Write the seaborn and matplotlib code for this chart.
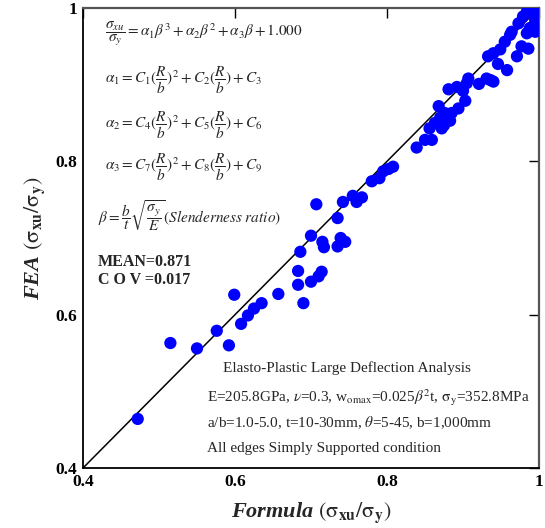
import matplotlib
matplotlib.use("Agg")
import matplotlib.pyplot as plt
import seaborn as sns
import pandas as pd

# Ultimate strength ratios: closed-form formula vs. FE analysis
formula_x = [
    0.472, 0.515, 0.550, 0.576, 0.592, 0.599, 0.608, 0.617, 0.625, 0.635,
    0.657, 0.683, 0.683, 0.690, 0.686, 0.700, 0.710, 0.714, 0.700, 0.707,
    0.715, 0.717, 0.735, 0.739, 0.745, 0.735, 0.742, 0.755, 0.760, 0.767,
    0.780, 0.790, 0.795, 0.802, 0.808, 0.839, 0.850, 0.859, 0.856, 0.863,
    0.872, 0.883, 0.868, 0.876, 0.885, 0.894, 0.903, 0.881, 0.892, 0.900,
    0.907, 0.905, 0.921, 0.931, 0.936, 0.940, 0.946, 0.958, 0.933, 0.940,
    0.949, 0.955, 0.962, 0.971, 0.977, 0.986, 0.964, 0.973, 0.979, 0.984,
    0.993, 0.997, 0.988, 0.984, 0.995, 0.993, 0.997, 0.995, 0.870, 0.875,
]
fea_y = [
    0.464, 0.563, 0.556, 0.579, 0.560, 0.626, 0.588, 0.599, 0.608, 0.615,
    0.627, 0.639, 0.657, 0.615, 0.682, 0.643, 0.650, 0.656, 0.703, 0.744,
    0.695, 0.688, 0.689, 0.700, 0.695, 0.726, 0.747, 0.755, 0.747, 0.753,
    0.774, 0.778, 0.787, 0.790, 0.793, 0.818, 0.828, 0.828, 0.843, 0.850,
    0.843, 0.853, 0.872, 0.863, 0.863, 0.869, 0.879, 0.894, 0.897, 0.892,
    0.908, 0.902, 0.901, 0.908, 0.906, 0.904, 0.927, 0.919, 0.937, 0.941,
    0.946, 0.956, 0.965, 0.937, 0.950, 0.947, 0.969, 0.980, 0.989, 0.995,
    0.999, 0.999, 0.974, 0.967, 0.984, 0.991, 0.978, 0.969, 0.857, 0.847,
]

axis_ticks = [0.4, 0.6, 0.8, 1.0]
tick_labels = ["0.4", "0.6", "0.8", "1"]

df = pd.DataFrame({"formula": formula_x, "fea": fea_y})

sns.set_style("white")
plt.rcParams["font.family"] = ["Liberation Serif", "DejaVu Serif"]
plt.rcParams["mathtext.fontset"] = "stix"

fig = plt.figure(figsize=(5.45, 5.28), dpi=100)
ax = fig.add_axes([83 / 545, 60 / 528, 456 / 545, 460 / 528])

# 1:1 reference line
ax.plot([0.4, 1.0], [0.4, 1.0], color="black", lw=1.1, zorder=1)

sns.scatterplot(data=df, x="formula", y="fea", ax=ax, color="#0000ff",
                s=78, edgecolor="none", linewidth=0, zorder=3, legend=False)

ax.set_xlim(0.4, 1.0)
ax.set_ylim(0.4, 1.0)
ax.set_xticks(axis_ticks)
ax.set_yticks(axis_ticks)
ax.set_xticklabels(tick_labels, fontweight="bold", fontsize=12.5)
ax.set_yticklabels(tick_labels, fontweight="bold", fontsize=12.5)
ax.tick_params(direction="in", length=7, width=1.0, top=True, right=True,
               pad=4, colors="black")

for side in ["left", "bottom"]:
    ax.spines[side].set_color("black")
    ax.spines[side].set_linewidth(1.3)
for side in ["top", "right"]:
    ax.spines[side].set_color("#555555")
    ax.spines[side].set_linewidth(1.6)

ax.set_xlabel(r"Formula $(\mathrm{\sigma}_{\mathbf{xu}}/\mathrm{\sigma}_{\mathbf{y}})$",
              fontsize=16, fontweight="bold", fontstyle="italic", labelpad=8)
ax.set_ylabel(r"FEA $(\mathrm{\sigma}_{\mathbf{xu}}/\mathrm{\sigma}_{\mathbf{y}})$",
              fontsize=16, fontweight="bold", fontstyle="italic", labelpad=6)

# Strength formula and statistics
fs = 11
tr = ax.transAxes
ax.text(0.048, 0.945,
        r"$\dfrac{\sigma_{xu}}{\sigma_y}=\alpha_1\beta^3+\alpha_2\beta^2+\alpha_3\beta+1.000$",
        transform=tr, fontsize=fs, va="center", ha="left")
ax.text(0.048, 0.843,
        r"$\alpha_1=C_1(\dfrac{R}{b})^2+C_2(\dfrac{R}{b})+C_3$",
        transform=tr, fontsize=fs, va="center", ha="left")
ax.text(0.048, 0.745,
        r"$\alpha_2=C_4(\dfrac{R}{b})^2+C_5(\dfrac{R}{b})+C_6$",
        transform=tr, fontsize=fs, va="center", ha="left")
ax.text(0.048, 0.652,
        r"$\alpha_3=C_7(\dfrac{R}{b})^2+C_8(\dfrac{R}{b})+C_9$",
        transform=tr, fontsize=fs, va="center", ha="left")
ax.text(0.033, 0.548,
        r"$\beta=\dfrac{b}{t}\sqrt{\dfrac{\sigma_y}{E}}(\mathit{Slenderness\ ratio})$",
        transform=tr, fontsize=fs, va="center", ha="left")
ax.text(0.033, 0.447, "MEAN=0.871", transform=tr, fontsize=11.5,
        fontweight="bold", va="center", ha="left")
ax.text(0.033, 0.408, "C O V =0.017", transform=tr, fontsize=11.5,
        fontweight="bold", va="center", ha="left")

# Analysis conditions
fs2 = 11
ax.text(0.307, 0.217, "Elasto-Plastic Large Deflection Analysis",
        transform=tr, fontsize=fs2, va="center", ha="left")
ax.text(0.272, 0.152,
        r"E=205.8GPa, $\nu$=0.3, w$_{\mathrm{omax}}$=0.025$\beta^2$t, $\mathrm{\sigma}_{\mathrm{y}}$=352.8MPa",
        transform=tr, fontsize=fs2, va="center", ha="left")
ax.text(0.272, 0.098, r"a/b=1.0-5.0, t=10-30mm, $\theta$=5-45, b=1,000mm",
        transform=tr, fontsize=fs2, va="center", ha="left")
ax.text(0.272, 0.043, "All edges Simply Supported condition",
        transform=tr, fontsize=fs2, va="center", ha="left")

fig.savefig("out.png", dpi=100)
